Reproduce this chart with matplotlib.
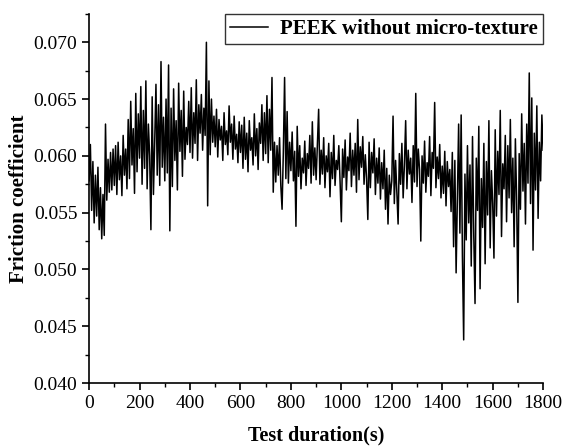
import numpy as np
import matplotlib
matplotlib.use("Agg")
import matplotlib.pyplot as plt
from matplotlib.ticker import MultipleLocator

plt.rcParams['font.family'] = ['Liberation Serif', 'DejaVu Serif']

step = 5
friction = [
    0.0578, 0.0610, 0.0552, 0.0595, 0.0541, 0.0583, 0.0547, 0.0590, 0.0535, 0.0572,
    0.0527, 0.0566, 0.0530, 0.0628, 0.0561, 0.0597, 0.0568, 0.0603, 0.0570, 0.0606,
    0.0574, 0.0609, 0.0566, 0.0612, 0.0579, 0.0600, 0.0565, 0.0618, 0.0583, 0.0606,
    0.0571, 0.0632, 0.0580, 0.0648, 0.0592, 0.0624, 0.0567, 0.0655, 0.0586, 0.0637,
    0.0598, 0.0661, 0.0575, 0.0640, 0.0589, 0.0666, 0.0571, 0.0628, 0.0600, 0.0535,
    0.0652, 0.0566, 0.0612, 0.0663, 0.0583, 0.0645, 0.0574, 0.0683, 0.0590, 0.0634,
    0.0578, 0.0650, 0.0585, 0.0680, 0.0534, 0.0642, 0.0573, 0.0659, 0.0596, 0.0631,
    0.0570, 0.0664, 0.0604, 0.0640, 0.0582, 0.0657, 0.0597, 0.0625, 0.0610, 0.0648,
    0.0603, 0.0660, 0.0598, 0.0638, 0.0611, 0.0667, 0.0596, 0.0645, 0.0620, 0.0654,
    0.0605, 0.0642, 0.0618, 0.0700, 0.0556, 0.0666, 0.0601, 0.0650, 0.0612, 0.0635,
    0.0608, 0.0641, 0.0599, 0.0632, 0.0614, 0.0626, 0.0596, 0.0638, 0.0610, 0.0622,
    0.0601, 0.0644, 0.0612, 0.0628, 0.0597, 0.0635, 0.0606, 0.0619, 0.0594, 0.0630,
    0.0603, 0.0627, 0.0589, 0.0634, 0.0597, 0.0620, 0.0586, 0.0631, 0.0605, 0.0616,
    0.0592, 0.0637, 0.0600, 0.0624, 0.0588, 0.0629, 0.0611, 0.0645, 0.0596, 0.0638,
    0.0602, 0.0653, 0.0594, 0.0641, 0.0605, 0.0669, 0.0568, 0.0612, 0.0577, 0.0609,
    0.0583, 0.0616, 0.0574, 0.0553, 0.0603, 0.0669, 0.0580, 0.0639, 0.0576, 0.0612,
    0.0587, 0.0621, 0.0578, 0.0604, 0.0538, 0.0626, 0.0582, 0.0609, 0.0571, 0.0598,
    0.0585, 0.0613, 0.0574, 0.0602, 0.0589, 0.0618, 0.0576, 0.0630, 0.0583, 0.0607,
    0.0579, 0.0610, 0.0641, 0.0575, 0.0605, 0.0584, 0.0616, 0.0572, 0.0600, 0.0586,
    0.0611, 0.0564, 0.0603, 0.0580, 0.0618, 0.0574, 0.0596, 0.0588, 0.0609, 0.0577,
    0.0542, 0.0606, 0.0581, 0.0614, 0.0570, 0.0599, 0.0587, 0.0620, 0.0573, 0.0605,
    0.0583, 0.0611, 0.0568, 0.0632, 0.0579, 0.0608, 0.0590, 0.0617, 0.0575, 0.0601,
    0.0580, 0.0544, 0.0612, 0.0572, 0.0603, 0.0585, 0.0615, 0.0566, 0.0598, 0.0576,
    0.0607, 0.0562, 0.0594, 0.0571, 0.0605, 0.0553, 0.0589, 0.0540, 0.0583, 0.0566,
    0.0578, 0.0635, 0.0558, 0.0596, 0.0569, 0.0540, 0.0602, 0.0575, 0.0611, 0.0563,
    0.0592, 0.0631, 0.0571, 0.0605, 0.0584, 0.0598, 0.0559, 0.0609, 0.0577, 0.0655,
    0.0573, 0.0606, 0.0588, 0.0525, 0.0600, 0.0576, 0.0613, 0.0568, 0.0594, 0.0582,
    0.0617, 0.0565, 0.0603, 0.0589, 0.0647, 0.0572, 0.0599, 0.0580, 0.0610, 0.0563,
    0.0591, 0.0567, 0.0604, 0.0556, 0.0595, 0.0573, 0.0588, 0.0551, 0.0603, 0.0520,
    0.0596, 0.0497, 0.0565, 0.0628, 0.0532, 0.0636, 0.0511, 0.0438, 0.0584, 0.0526,
    0.0609, 0.0541, 0.0592, 0.0503, 0.0617, 0.0530, 0.0470, 0.0598, 0.0552, 0.0626,
    0.0483, 0.0580, 0.0537, 0.0611, 0.0505, 0.0595, 0.0548, 0.0631, 0.0519, 0.0587,
    0.0558, 0.0510, 0.0623, 0.0547, 0.0604, 0.0566, 0.0640, 0.0529, 0.0593, 0.0571,
    0.0618, 0.0542, 0.0609, 0.0563, 0.0632, 0.0550, 0.0598, 0.0520, 0.0615, 0.0561,
    0.0471, 0.0602, 0.0553, 0.0637, 0.0569, 0.0611, 0.0540, 0.0628, 0.0576, 0.0673,
    0.0558, 0.0651, 0.0517, 0.0620, 0.0570, 0.0644, 0.0545, 0.0612, 0.0578, 0.0636,
    0.0605,
]
time = np.arange(len(friction)) * step

fig = plt.figure(figsize=(5.64, 4.48), dpi=100)
ax = fig.add_axes([0.158, 0.145, 0.805, 0.824])

ax.plot(time, friction, color='black', linewidth=1.1, label='PEEK without micro-texture')

ax.set_xlim(0, 1800)
ax.set_ylim(0.040, 0.0725)
ax.xaxis.set_major_locator(MultipleLocator(200))
ax.xaxis.set_minor_locator(MultipleLocator(100))
ax.yaxis.set_major_locator(MultipleLocator(0.005))
ax.yaxis.set_minor_locator(MultipleLocator(0.0025))
ax.yaxis.set_major_formatter(plt.FormatStrFormatter('%.3f'))

ax.spines['top'].set_visible(False)
ax.spines['right'].set_visible(False)
for s in ['left', 'bottom']:
    ax.spines[s].set_linewidth(1.2)
ax.tick_params(which='major', direction='out', length=5, width=1.2, labelsize=14)
ax.tick_params(which='minor', direction='out', length=3, width=1.0)

ax.set_xlabel('Test duration(s)', fontsize=14.5, fontweight='bold', labelpad=10)
ax.set_ylabel('Friction coefficient', fontsize=15, fontweight='bold', labelpad=3)

leg = ax.legend(loc='upper right', prop={'weight': 'bold', 'size': 15},
                frameon=True, fancybox=False, borderaxespad=0.0,
                handlelength=1.8, borderpad=0.25, handletextpad=0.6)
leg.get_frame().set_edgecolor('black')
leg.get_frame().set_linewidth(1.0)

fig.savefig('out.png', dpi=100)
